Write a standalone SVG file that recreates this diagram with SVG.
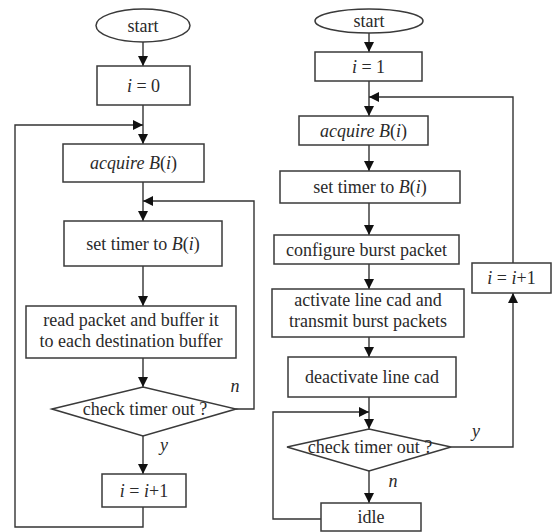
<svg xmlns="http://www.w3.org/2000/svg" width="556" height="532" viewBox="0 0 556 532">
<style>
.shape{fill:#fff;stroke:#3a3a3a;stroke-width:1.5}
.conn{fill:none;stroke:#333;stroke-width:1.4}
text{font-family:"Liberation Serif","Times New Roman",serif;font-size:18px;fill:#2a2a2a;text-anchor:middle}
.it{font-style:italic}
</style>
<defs>
<marker id="ah" markerUnits="userSpaceOnUse" markerWidth="11" markerHeight="11" refX="10" refY="5" orient="auto">
<path d="M0,0 L10,5 L0,10 z" fill="#111"/>
</marker>
</defs>
<rect width="556" height="532" fill="#fff"/>
<g id="connectors">
<!-- left -->
<line class="conn" x1="143" y1="42" x2="143" y2="66" marker-end="url(#ah)"/>
<line class="conn" x1="143" y1="105" x2="143" y2="144" marker-end="url(#ah)"/>
<line class="conn" x1="143" y1="182" x2="143" y2="221" marker-end="url(#ah)"/>
<line class="conn" x1="143" y1="266" x2="143" y2="306" marker-end="url(#ah)"/>
<line class="conn" x1="143" y1="358" x2="143" y2="387" marker-end="url(#ah)"/>
<line class="conn" x1="143" y1="436" x2="143" y2="474" marker-end="url(#ah)"/>
<polyline class="conn" points="236,409 254,409 254,201 143,201" marker-end="url(#ah)"/>
<polyline class="conn" points="143,507 143,527 15,527 15,125 143,125" marker-end="url(#ah)"/>
<!-- right -->
<line class="conn" x1="369" y1="33" x2="369" y2="52" marker-end="url(#ah)"/>
<line class="conn" x1="369" y1="81" x2="369" y2="116" marker-end="url(#ah)"/>
<line class="conn" x1="369" y1="145" x2="369" y2="171" marker-end="url(#ah)"/>
<line class="conn" x1="369" y1="203" x2="369" y2="235" marker-end="url(#ah)"/>
<line class="conn" x1="369" y1="264" x2="369" y2="289" marker-end="url(#ah)"/>
<line class="conn" x1="369" y1="337" x2="369" y2="357" marker-end="url(#ah)"/>
<line class="conn" x1="369" y1="397" x2="369" y2="429" marker-end="url(#ah)"/>
<line class="conn" x1="369" y1="471" x2="369" y2="503" marker-end="url(#ah)"/>
<polyline class="conn" points="451,447 513,447 513,293" marker-end="url(#ah)"/>
<polyline class="conn" points="513,263 513,97 369,97" marker-end="url(#ah)"/>
<polyline class="conn" points="321,519 273,519 273,412 369,412" marker-end="url(#ah)"/>
<text class="it" x="235" y="392">n</text>
<text class="it" x="164" y="451">y</text>
<text class="it" x="476" y="437">y</text>
<text class="it" x="393" y="487">n</text>
</g>
<g id="L_start"><ellipse class="shape" cx="143" cy="25.5" rx="47" ry="16.5"/><text x="143" y="31.5">start</text></g>
<g id="L_init"><rect class="shape" x="97" y="66" width="93" height="39"/><text x="143.5" y="91.5"><tspan class="it">i</tspan> = 0</text></g>
<g id="L_acquire"><rect class="shape" x="63" y="144" width="141" height="38"/><text x="133.5" y="169"><tspan class="it">acquire B</tspan>(<tspan class="it">i</tspan>)</text></g>
<g id="L_timer"><rect class="shape" x="64" y="221" width="158" height="45"/><text x="143" y="249.5">set timer to <tspan class="it">B</tspan>(<tspan class="it">i</tspan>)</text></g>
<g id="L_read"><rect class="shape" x="26" y="306" width="210" height="52"/><text x="131" y="326">read packet and buffer it</text><text x="131" y="347">to each destination buffer</text></g>
<g id="L_check"><polygon class="shape" points="52,409 143,387 236,409 143,436"/><text x="145" y="415">check timer out ?</text></g>
<g id="L_inc"><rect class="shape" x="102" y="474" width="84" height="33"/><text x="144" y="496.5"><tspan class="it">i</tspan> = <tspan class="it">i</tspan>+1</text></g>
<g id="R_start"><ellipse class="shape" cx="369" cy="21" rx="54" ry="12"/><text x="369" y="27">start</text></g>
<g id="R_init"><rect class="shape" x="315" y="52" width="107" height="29"/><text x="368.5" y="72.5"><tspan class="it">i</tspan> = 1</text></g>
<g id="R_acquire"><rect class="shape" x="299" y="116" width="129" height="29"/><text x="363.5" y="136.5"><tspan class="it">acquire B</tspan>(<tspan class="it">i</tspan>)</text></g>
<g id="R_timer"><rect class="shape" x="280" y="171" width="180" height="32"/><text x="370" y="193">set timer to <tspan class="it">B</tspan>(<tspan class="it">i</tspan>)</text></g>
<g id="R_config"><rect class="shape" x="274" y="235" width="185" height="29"/><text x="366.5" y="255.5">configure burst packet</text></g>
<g id="R_activate"><rect class="shape" x="272" y="289" width="192" height="48"/><text x="368" y="306">activate line cad and</text><text x="368" y="327">transmit burst packets</text></g>
<g id="R_deactivate"><rect class="shape" x="288" y="357" width="168" height="40"/><text x="372" y="383">deactivate line cad</text></g>
<g id="R_check"><polygon class="shape" points="287,447 369,429 451,447 369,471"/><text x="370" y="453">check timer out ?</text></g>
<g id="R_idle"><rect class="shape" x="321" y="503" width="100" height="28"/><text x="371" y="523">idle</text></g>
<g id="R_inc"><rect class="shape" x="472" y="263" width="79" height="30"/><text x="511.5" y="284"><tspan class="it">i</tspan> = <tspan class="it">i</tspan>+1</text></g>
</svg>
